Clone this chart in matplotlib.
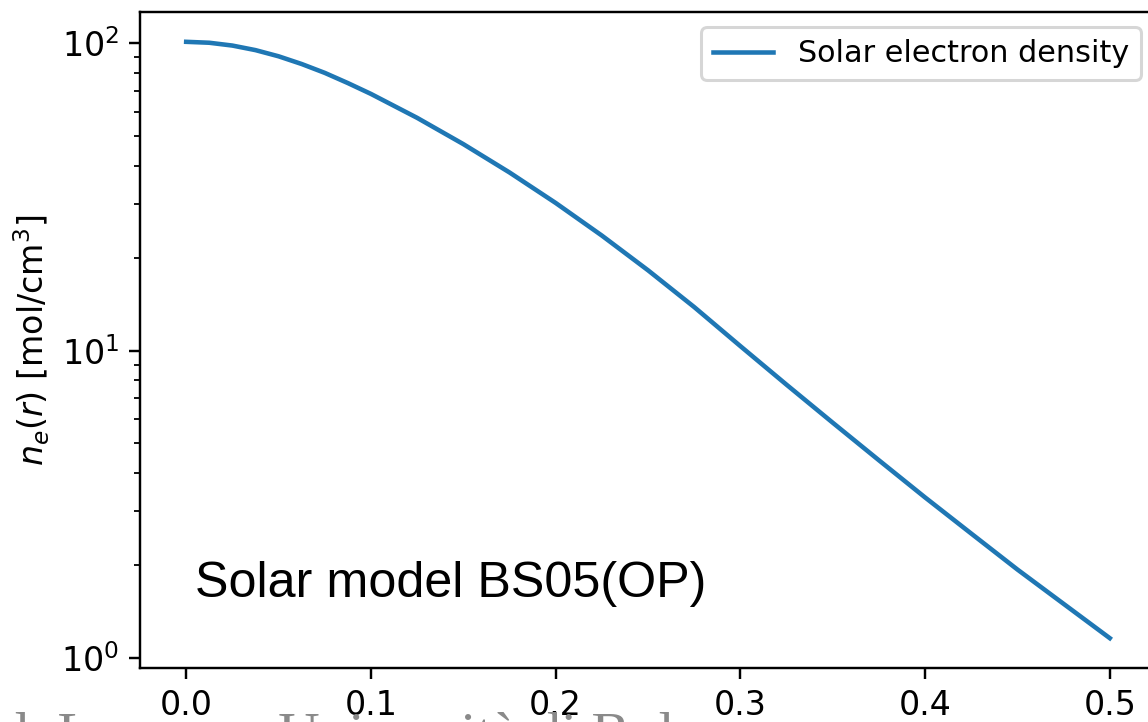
import matplotlib
matplotlib.use("Agg")
import matplotlib.pyplot as plt

# Data (r / R_sun, electron density in mol/cm^3)
r_vals = [0.0, 0.0125, 0.025, 0.0375, 0.05, 0.0625, 0.075, 0.0875, 0.100,
          0.125, 0.150, 0.175, 0.200, 0.225, 0.250, 0.275, 0.300,
          0.325, 0.350, 0.375, 0.400, 0.425, 0.450, 0.475, 0.500]
ne_vals = [101.2, 100.5, 98.4, 95.1, 90.8, 85.7, 80.2, 74.3, 68.5,
           57.26, 47.03, 38.03, 30.26, 23.70, 18.27, 13.87, 10.35,
           7.75, 5.83, 4.40, 3.33, 2.54, 1.94, 1.50, 1.16]

series_label = "Solar electron density"
x_ticks = [0.0, 0.1, 0.2, 0.3, 0.4, 0.5]

DPI = 218
fig = plt.figure(figsize=(1148 / DPI, 722 / DPI), dpi=DPI)
ax = fig.add_axes([140 / 1148, 54 / 722, (1156 - 140) / 1148, (668 - 12) / 722])

ax.plot(r_vals, ne_vals, color="#1f77b4", lw=1.5, label=series_label)
ax.set_yscale("log")
ax.set_xticks(x_ticks)
ax.set_xticklabels([f"{t:.1f}" for t in x_ticks])
ax.tick_params(axis="both", which="major", labelsize=11)
ax.set_ylabel(r"$n_e(r)$ [mol/cm$^3$]", fontsize=11)
ax.yaxis.set_label_coords(-0.087, 0.5)
ax.legend(loc="upper right")

fig.text(195 / 1148, 1 - 597 / 722, "Solar model BS05(OP)",
         family="Liberation Sans", fontsize=16.6, color="black")

# partially hidden footer text from the slide
fig.text(0.0, 1 - 752 / 722, "d. Lorenzo  Università di Bologna",
         family="Liberation Serif", fontsize=19, color="#8a8a8a")

fig.savefig("out.png", dpi=DPI)
